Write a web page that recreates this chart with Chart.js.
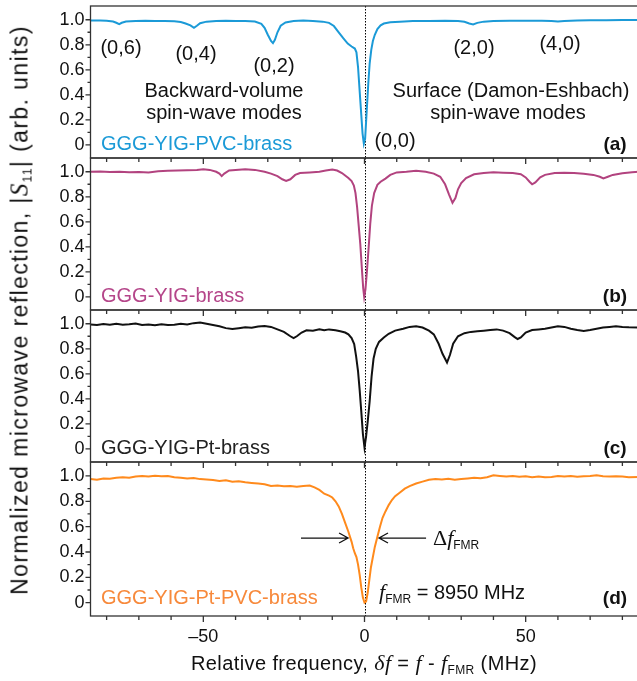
<!DOCTYPE html>
<html>
<head>
<meta charset="utf-8">
<script src="https://cdn.jsdelivr.net/npm/chart.js@4.4.0/dist/chart.umd.min.js"></script>
<style>
  html, body { margin: 0; padding: 0; background: #fff; overflow: hidden; }
  #wrap { position: relative; width: 637px; height: 681px; overflow: hidden;
          font-family: "Liberation Sans", Arial, sans-serif; color: #111; }
  #wrap canvas { position: absolute; left: 0; top: 0; }
  .t { position: absolute; white-space: nowrap; font-size: 20px; line-height: 1;
       transform: translate(-50%, -50%); }
  .l { position: absolute; white-space: nowrap; font-size: 20px; line-height: 1;
       transform: translate(0, -50%); }
  .tag { font-weight: bold; font-size: 19px; }
  .m { font-family: "Liberation Serif", "Times New Roman", serif; font-style: italic; font-size: 22px; }
  .sub { font-size: 12px; position: relative; top: 4px; }
  #xtitle { letter-spacing: 0.4px; }
  #ytitle { position: absolute; left: 19px; top: 310px; white-space: nowrap; font-size: 23px;
            letter-spacing: 1.4px; line-height: 1; transform: translate(-50%, -50%) rotate(-90deg); }
  #ytitle .m { font-size: 25px; }
</style>
</head>
<body>
<div id="wrap">
  <canvas id="pa" width="642" height="681"></canvas>
  <canvas id="pb" width="642" height="681"></canvas>
  <canvas id="pc" width="642" height="681"></canvas>
  <canvas id="pd" width="642" height="681"></canvas>

  <div class="t" style="left:121px;top:47px">(0,6)</div>
  <div class="t" style="left:196px;top:53px">(0,4)</div>
  <div class="t" style="left:274px;top:65px">(0,2)</div>
  <div class="t" style="left:474px;top:47px">(2,0)</div>
  <div class="t" style="left:560px;top:43px">(4,0)</div>
  <div class="t" style="left:395px;top:140px">(0,0)</div>
  <div class="t" style="left:224px;top:90px">Backward-volume</div>
  <div class="t" style="left:224px;top:112px">spin-wave modes</div>
  <div class="t" style="left:511px;top:90px">Surface (Damon-Eshbach)</div>
  <div class="t" style="left:508px;top:112px">spin-wave modes</div>

  <div class="l" style="left:101px;top:143px;color:#1b9ad7">GGG-YIG-PVC-brass</div>
  <div class="l" style="left:101px;top:295px;color:#b5468a">GGG-YIG-brass</div>
  <div class="l" style="left:101px;top:447px;color:#222">GGG-YIG-Pt-brass</div>
  <div class="l" style="left:101px;top:597px;color:#f7893b">GGG-YIG-Pt-PVC-brass</div>
  <div class="t tag" style="left:615px;top:143px">(a)</div>
  <div class="t tag" style="left:615px;top:295px">(b)</div>
  <div class="t tag" style="left:615px;top:447px">(c)</div>
  <div class="t tag" style="left:615px;top:597px">(d)</div>

  <div class="l" style="left:433px;top:538px"><span class="m" style="font-style:normal">&Delta;</span><span class="m">f</span><span class="sub">FMR</span></div>
  <div class="l" style="left:379px;top:592px"><span class="m">f</span><span class="sub">FMR</span> = 8950 MHz</div>

  <div class="t" id="xtitle" style="left:364px;top:663px">Relative frequency, <span class="m">&delta;f</span> = <span class="m">f</span> - <span class="m">f</span><span class="sub">FMR</span> (MHz)</div>
  <div id="ytitle">Normalized microwave reflection, |<span class="m">S</span><span class="sub">11</span>| (arb. units)</div>
</div>

<script>
// x range and ticks (MHz)
const xMin = -85, xMax = 85;
const xTicks = [-50, 0, 50];
const xMinorTicks = [-80, -70, -60, -40, -30, -20, -10, 10, 20, 30, 40, 60, 70, 80];
const yTicks = [0, 0.2, 0.4, 0.6, 0.8, 1.0];
const yMinorTicks = [0.1, 0.3, 0.5, 0.7, 0.9];

// (a) GGG-YIG-PVC-brass
const freqA = [-85, -82, -80, -78, -77, -76.1, -75.3, -74, -71, -68, -65, -62, -59, -57, -55.5, -54, -52.9, -52, -51, -49, -46, -43, -40, -37,
  -34, -32, -31, -30, -29, -28.4, -27.8, -27, -26, -24.5, -22, -19, -16, -13, -11, -9.5, -8, -6.6, -5.2, -4, -3, -2.5, -2, -1.5, -1,
  -0.6, -0.2, 0.2, 0.7, 1.2, 1.6, 2.1, 2.6, 3.2, 4, 5, 6, 8, 11, 15, 20, 25, 29, 31, 32.5, 33.7, 35, 37, 40, 45, 50, 55, 58, 60, 62,
  66, 70, 75, 80, 85];
const refA = [0.995, 0.994, 0.992, 0.986, 0.976, 0.965, 0.976, 0.986, 0.99, 0.992, 0.99, 0.991, 0.988, 0.982, 0.97, 0.955, 0.935, 0.952, 0.972, 0.985, 0.99, 0.992, 0.99, 0.99,
  0.986, 0.968, 0.935, 0.88, 0.83, 0.813, 0.84, 0.9, 0.952, 0.978, 0.99, 0.994, 0.99, 0.985, 0.975, 0.95, 0.9, 0.853, 0.81, 0.786, 0.77, 0.74, 0.62, 0.43, 0.24,
  0.09, 0.01, 0.05, 0.28, 0.5, 0.65, 0.76, 0.83, 0.88, 0.925, 0.955, 0.97, 0.98, 0.985, 0.99, 0.99, 0.992, 0.99, 0.984, 0.97, 0.962, 0.975, 0.985, 0.99, 0.992, 0.993, 0.992, 0.99, 0.986, 0.99,
  0.995, 0.996, 0.997, 0.998, 0.998];

// (b) GGG-YIG-brass
const freqB = [-85, -82, -79, -76, -73, -70, -67, -64, -61, -58, -55, -52, -50, -48, -46, -45, -44.3, -43.5, -42, -40, -37, -34, -31, -29, -27,
  -25.5, -24.3, -23, -21.5, -20, -17, -14, -12, -10, -8.5, -7, -6, -5, -4, -3.3, -2.8, -2.3, -1.8, -1.3, -0.8, -0.4, -0.1, 0.3, 0.8, 1.3, 1.8,
  2.3, 3, 4, 5, 6.5, 8, 10, 13, 16, 19, 21.5, 23.5, 25, 26.2, 27.3, 28.2, 29, 30, 31.5, 34, 37, 40, 43, 46, 48.5, 50, 51.2, 52, 53, 54.5, 56,
  59, 62, 65, 68, 71, 73, 74.1, 75.5, 77, 80, 83, 85];
const refB = [1.0, 1.003, 0.998, 1.0, 0.997, 0.999, 0.995, 1.005, 1.008, 1.01, 1.012, 1.015, 1.02, 1.015, 1.0, 0.985, 0.965, 0.985, 1.01, 1.015, 1.02, 1.015, 1.0, 0.985, 0.965,
  0.94, 0.927, 0.94, 0.975, 0.99, 0.995, 1.0, 1.01, 1.018, 1.01, 0.99, 0.97, 0.95, 0.925, 0.89, 0.83, 0.72, 0.57, 0.42, 0.22, 0.07, 0.0, 0.06, 0.22, 0.4, 0.59,
  0.73, 0.83, 0.895, 0.92, 0.945, 0.975, 0.995, 1.0, 1.008, 1.0, 0.985, 0.96, 0.9, 0.82, 0.752, 0.79, 0.86, 0.91, 0.95, 0.98, 0.99, 0.997, 0.993, 0.99, 0.98, 0.955, 0.92, 0.9, 0.915, 0.955, 0.975,
  0.99, 0.993, 0.99, 0.985, 0.975, 0.96, 0.946, 0.96, 0.975, 0.988, 0.997, 1.0];

// (c) GGG-YIG-Pt-brass
const freqC = [-85, -83, -81, -79, -77, -75, -73, -71, -69, -67, -65, -63, -61, -59, -57, -55, -53, -51, -49, -47, -45, -43, -41, -39, -37, -35,
  -33, -31, -29, -27, -25, -23, -22, -21, -19.5, -18, -16, -14, -12.5, -11, -9, -7.5, -6, -5, -4, -3.2, -2.6, -2, -1.5, -1, -0.5, 0, 0.5, 1,
  1.6, 2.2, 2.8, 3.5, 4.5, 6, 7.5, 9.5, 12, 14, 16, 18, 20, 21.5, 23, 24.2, 25.6, 26.5, 27.5, 29, 31, 33, 35, 37, 39, 41, 43, 45, 46.5, 47.5,
  48.5, 50, 52, 54, 56, 58, 60, 62, 64, 66, 68, 70, 72, 74, 76, 78, 80, 82, 85];
const refC = [0.995, 0.99, 0.998, 0.993, 1.0, 0.992, 0.996, 1.002, 0.99, 0.995, 0.988, 0.996, 0.99, 0.993, 1.0, 0.995, 1.005, 1.01, 1.0, 0.99, 0.98, 0.965, 0.958, 0.965, 0.972, 0.968,
  0.978, 0.982, 0.975, 0.955, 0.935, 0.9, 0.885, 0.9, 0.93, 0.948, 0.945, 0.955, 0.948, 0.955, 0.948, 0.94, 0.93, 0.915, 0.885, 0.838, 0.74, 0.62, 0.47, 0.3, 0.12, 0.01, 0.1, 0.22,
  0.38, 0.58, 0.72, 0.8, 0.855, 0.89, 0.92, 0.945, 0.96, 0.975, 0.98, 0.97, 0.945, 0.915, 0.84, 0.76, 0.69, 0.75, 0.84, 0.9, 0.925, 0.935, 0.94, 0.945, 0.95, 0.955, 0.945, 0.925, 0.895, 0.878,
  0.89, 0.93, 0.95, 0.955, 0.96, 0.97, 0.98, 0.975, 0.96, 0.95, 0.943, 0.95, 0.96, 0.97, 0.975, 0.98, 0.975, 0.972, 0.97];

// (d) GGG-YIG-Pt-PVC-brass
const freqD = [-85, -83, -81, -79, -77, -75, -73, -71, -69, -67, -65, -63, -61, -59, -57, -55, -53, -51, -49, -47, -45, -43, -41, -39, -37, -35,
  -33, -31, -29, -27, -25, -23, -21, -19, -17, -15.5, -14, -12.5, -11, -10, -9, -8, -7, -6, -5, -4, -3.5, -3, -2.5, -2, -1.5, -1, -0.5, 0, 0.5,
  1, 1.5, 2, 2.6, 3.2, 4, 4.8, 5.6, 6.5, 7.5, 8.5, 9.5, 11, 12.5, 14, 16, 18, 20, 22, 24, 26, 28, 30, 32, 34, 36, 38, 40, 42, 44, 46, 48, 50,
  52, 54, 56, 58, 60, 62, 64, 66, 68, 70, 72, 74, 76, 78, 80, 82, 85];
const refD = [0.975, 0.97, 0.98, 0.978, 0.985, 0.99, 0.985, 0.995, 1.0, 0.995, 1.002, 0.998, 1.0, 0.99, 0.985, 0.98, 0.984, 0.975, 0.972, 0.968, 0.96, 0.965, 0.955, 0.958, 0.95, 0.945,
  0.94, 0.935, 0.92, 0.925, 0.918, 0.92, 0.915, 0.92, 0.925, 0.91, 0.89, 0.86, 0.845, 0.83, 0.8, 0.76, 0.7, 0.63, 0.56, 0.48, 0.43, 0.39, 0.36, 0.3, 0.22, 0.12, 0.04, 0.0, 0.01,
  0.08, 0.18, 0.28, 0.36, 0.44, 0.52, 0.6, 0.67, 0.72, 0.77, 0.81, 0.84, 0.87, 0.9, 0.92, 0.94, 0.955, 0.97, 0.975, 0.972, 0.978, 0.97, 0.975, 0.98, 0.985, 0.982, 0.99, 1.005, 1.0, 0.995, 1.0, 0.993, 0.998,
  0.99, 0.995, 0.99, 0.992, 1.0, 0.995, 1.0, 0.993, 0.998, 1.0, 1.005, 0.998, 0.995, 0.998, 0.995, 0.99, 0.992];

// annotation arrows in panel (d): [from, to] in MHz at reflection level
const arrowLevel = 0.51;
const arrowLeft = [-19.7, -5.1];
const arrowRight = [19.1, 4.5];

const fmt = v => (v < 0 ? '\u2013' + Math.abs(v) : String(v));

const framePlugin = {
  id: 'frame',
  beforeDatasetsDraw(chart) {
    const { ctx, chartArea: a, scales: { x } } = chart;
    const x0 = Math.round(x.getPixelForValue(0)) + 0.5;
    ctx.save();
    ctx.strokeStyle = '#000';
    ctx.lineWidth = 1;
    ctx.setLineDash([1.5, 1.5]);
    ctx.beginPath();
    ctx.moveTo(x0, a.top);
    ctx.lineTo(x0, a.bottom);
    ctx.stroke();
    ctx.restore();
  },
  afterDatasetsDraw(chart, args, opts) {
    const { ctx, chartArea: a, scales: { x, y } } = chart;
    ctx.save();
    ctx.strokeStyle = '#333';
    ctx.lineWidth = 1.3;
    ctx.strokeRect(a.left, a.top, a.right - a.left, a.bottom - a.top);
    ctx.beginPath();
    yTicks.forEach(v => {
      const py = y.getPixelForValue(v);
      ctx.moveTo(a.left - 5, py);
      ctx.lineTo(a.left, py);
    });
    yMinorTicks.forEach(v => {
      const py = y.getPixelForValue(v);
      ctx.moveTo(a.left - 3, py);
      ctx.lineTo(a.left, py);
    });
    xTicks.forEach(v => {
      const px = x.getPixelForValue(v);
      ctx.moveTo(px, a.bottom);
      ctx.lineTo(px, a.bottom + 6);
    });
    xMinorTicks.forEach(v => {
      const px = x.getPixelForValue(v);
      ctx.moveTo(px, a.bottom);
      ctx.lineTo(px, a.bottom + 4);
    });
    ctx.stroke();

    if (opts.arrows) {
      const py = y.getPixelForValue(arrowLevel);
      ctx.strokeStyle = '#111';
      ctx.lineWidth = 1.3;
      [arrowLeft, arrowRight].forEach(([from, to]) => {
        const p1 = x.getPixelForValue(from);
        const p2 = x.getPixelForValue(to);
        const d = p2 > p1 ? 1 : -1;
        ctx.beginPath();
        ctx.moveTo(p1, py);
        ctx.lineTo(p2, py);
        ctx.moveTo(p2 - d * 9, py - 5);
        ctx.lineTo(p2, py);
        ctx.lineTo(p2 - d * 9, py + 5);
        ctx.stroke();
      });
    }
    ctx.restore();
  }
};

function makePanel(id, freq, refl, color, top, bottom, showX) {
  const canvas = document.getElementById(id);
  const H = canvas.height;
  return new Chart(canvas, {
    type: 'line',
    data: {
      datasets: [{
        data: freq.map((f, i) => ({ x: f, y: refl[i] })),
        borderColor: color,
        borderWidth: 2,
        pointRadius: 0,
        tension: 0,
        fill: false
      }]
    },
    options: {
      responsive: false,
      animation: false,
      events: [],
      layout: { padding: { left: 0, right: 3.5, top: top, bottom: showX ? 0 : H - bottom } },
      plugins: { legend: { display: false }, tooltip: { enabled: false }, frame: { arrows: id === 'pd' } },
      scales: {
        x: {
          type: 'linear',
          min: xMin,
          max: xMax,
          display: showX,
          grid: { display: false, drawTicks: false },
          border: { display: false },
          afterBuildTicks: s => { s.ticks = xTicks.map(v => ({ value: v })); },
          afterFit: s => {
            if (showX) s.height = H - bottom;
            s.paddingLeft = 0;
            s.paddingRight = 0;
          },
          ticks: {
            padding: 10,
            color: '#111',
            font: { family: '"Liberation Sans", Arial, sans-serif', size: 18 },
            maxRotation: 0,
            callback: v => fmt(v)
          }
        },
        y: {
          min: -0.105,
          max: 1.11,
          grid: { display: false, drawTicks: false },
          border: { display: false },
          afterBuildTicks: s => { s.ticks = yTicks.map(v => ({ value: v })); },
          afterFit: s => { s.width = 90.5; s.paddingTop = 0; s.paddingBottom = 0; },
          ticks: {
            padding: 6,
            color: '#111',
            font: { family: '"Liberation Sans", Arial, sans-serif', size: 18 },
            callback: v => (v === 0 ? '0' : v.toFixed(1))
          }
        }
      }
    },
    plugins: [framePlugin]
  });
}

makePanel('pa', freqA, refA, '#1b9ad7', 6, 158, false);
makePanel('pb', freqB, refB, '#b2437f', 158, 310, false);
makePanel('pc', freqC, refC, '#111111', 310, 462, false);
makePanel('pd', freqD, refD, '#ff8a1c', 462, 616, true);
</script>
</body>
</html>
